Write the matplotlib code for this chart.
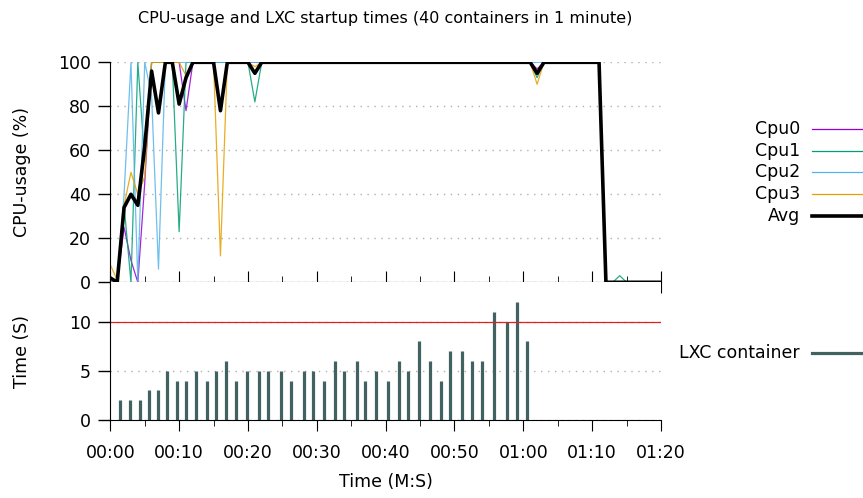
import matplotlib
matplotlib.use("Agg")
import matplotlib.pyplot as plt
from matplotlib.lines import Line2D

plt.rcParams['font.family'] = ['DejaVu Sans']
plt.rcParams['font.size'] = 12.5

# sample times (s) for the cpu series
t = list(range(0, 81))

# cpu usage (%), one value per second
cpu0 = [0, 0, 25, 10, 0, 45, 100, 100, 100, 100, 100, 78] + [100] * 50 + [97] + [100] * 9 + [0] * 9
cpu1 = [0, 0, 35, 0, 100, 55, 100, 100, 100, 100, 23, 100] + [100] * 9 + [82] + [100] * 40 + [93] + [100] * 9 + [0, 0, 3] + [0] * 6
cpu2 = [0, 0, 40, 100, 0, 100, 85, 6, 100, 100, 100, 100] + [100] * 50 + [100] + [100] * 9 + [0] * 9
cpu3 = [8, 1, 35, 50, 40, 48, 100, 100, 100, 100, 100, 94, 100, 100, 100, 100, 12] + [100] * 4 + [98] + [100] * 40 + [90] + [100] * 9 + [0] * 9
avg = [2, 0, 34, 40, 35, 62, 96, 77, 100, 100, 81, 93, 100, 100, 100, 100, 78] + [100] * 4 + [95] + [100] * 40 + [95] + [100] * 9 + [0] * 9

# container startup times
start_t = [1.45, 2.9, 4.26, 5.6, 7.0, 8.3, 9.7, 11.0, 12.4, 14.0,
           15.3, 16.8, 18.3, 19.8, 21.6, 22.9, 24.8, 26.3, 28.1, 29.5,
           31.1, 32.6, 34.0, 35.8, 37.0, 38.6, 40.3, 41.9, 43.3, 44.8,
           46.4, 48.0, 49.4, 51.1, 52.5, 54.0, 55.8, 57.6, 59.1, 60.5]
start_dur = [2, 2, 2, 3, 3, 5, 4, 4, 5, 4,
             5, 6, 4, 5, 5, 5, 5, 4, 5, 5,
             4, 6, 5, 6, 4, 5, 4, 6, 5, 8,
             6, 4, 7, 7, 6, 6, 11, 10, 12, 8]
limit = 10

xticks = [0, 10, 20, 30, 40, 50, 60, 70, 80]
xtick_labels = ["00:00", "00:10", "00:20", "00:30", "00:40", "00:50", "01:00", "01:10", "01:20"]

fig = plt.figure(figsize=(8.63, 4.98), dpi=100)
W, H = 863, 498
x0, x1 = 110.3, 661
ax1 = fig.add_axes([x0 / W, 1 - 282.3 / H, (x1 - x0) / W, 220 / H])
ax2 = fig.add_axes([x0 / W, 1 - 420 / H, (x1 - x0) / W, 137.7 / H])

series = [("Cpu0", cpu0, "#9400d3"), ("Cpu1", cpu1, "#009e73"),
          ("Cpu2", cpu2, "#56b4e9"), ("Cpu3", cpu3, "#e69f00")]
for name, vals, col in series:
    ax1.plot(t, vals, color=col, lw=0.9, alpha=0.85, solid_joinstyle='round')
ax1.plot(t, avg, color="black", lw=2.6, solid_joinstyle='round', solid_capstyle='round')

ax2.vlines(start_t, 0, start_dur, color="#426262", lw=2.3)
ax2.axhline(limit, color="#dd2020", lw=0.9)

for ax in (ax1, ax2):
    ax.set_xlim(0, 80)
    ax.spines['top'].set_visible(False)
    ax.spines['right'].set_visible(False)
    ax.grid(axis='y', color='#b0b0b0', ls=(0, (1, 4)), lw=1)
    ax.set_axisbelow(True)
    ax.set_xticks(xticks)
    ax.set_xticks(range(5, 80, 10), minor=True)
    ax.tick_params(axis='y', direction='out', length=9, width=1, pad=5)

ax1.set_ylim(0, 100)
ax1.set_yticks([0, 20, 40, 60, 80, 100])
ax1.set_xticklabels([])
ax1.tick_params(axis='x', which='major', direction='inout', length=16)
ax1.tick_params(axis='x', which='minor', direction='inout', length=8)
ax1.set_ylabel("CPU-usage (%)", labelpad=19)

ax2.set_ylim(0, 14)
ax2.set_yticks([0, 5, 10])
ax2.set_xticklabels(xtick_labels)
ax2.tick_params(axis='x', which='major', direction='out', length=8, pad=9)
ax2.tick_params(axis='x', which='minor', direction='out', length=4)
ax2.set_ylabel("Time (S)", labelpad=27)
ax2.set_xlabel("Time (M:S)", labelpad=8)

fig.text((x0 + x1) / 2 / W, 1 - 19 / H,
         "CPU-usage and LXC startup times (40 containers in 1 minute)",
         ha='center', va='center', fontsize=11.5)

# legends drawn beside the plots
rows = [129.3, 150.8, 172.4, 194, 216]
for (name, vals, col), y in zip(series + [("Avg", avg, "black")], rows):
    fig.text(800 / W, 1 - y / H, name, ha='right', va='center')
    fig.add_artist(Line2D([812 / W, 1], [1 - y / H] * 2, color=col,
                          lw=2.6 if name == "Avg" else 0.9, transform=fig.transFigure))
fig.text(800 / W, 1 - 352.7 / H, "LXC container", ha='right', va='center')
fig.add_artist(Line2D([812 / W, 1], [1 - 352.7 / H] * 2, color="#426262", lw=2.3,
                      transform=fig.transFigure))

fig.savefig("out.png", dpi=100)
